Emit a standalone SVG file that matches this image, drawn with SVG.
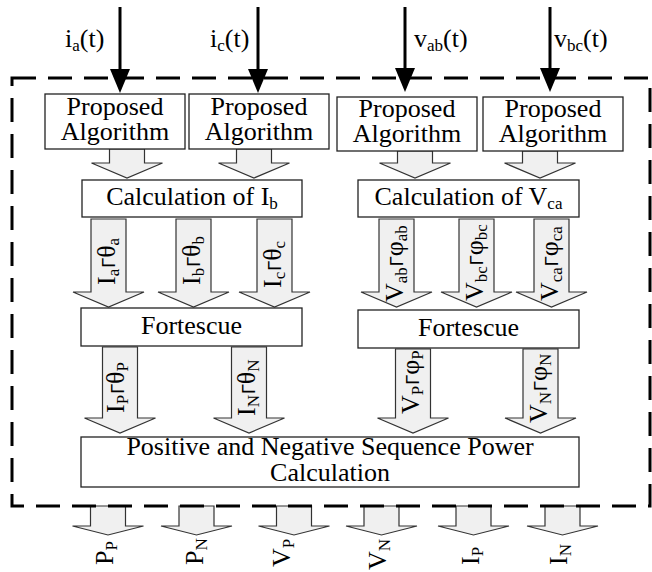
<svg xmlns="http://www.w3.org/2000/svg" width="652" height="572" viewBox="0 0 652 572">
<defs>
<style>
text{font-family:"Liberation Serif","Times New Roman",serif;font-size:26px;fill:#000}
.c{text-anchor:middle}
.sub{font-size:17px}
.ang{font-family:"Liberation Sans",Arial,sans-serif;font-size:18px}
.box{fill:#fff;stroke:#222;stroke-width:1.3}
.barr{fill:#f0f0f0;stroke:#333;stroke-width:1.2;stroke-linejoin:miter}
.in{stroke:#000;stroke-width:3;fill:none}
.frame{fill:none;stroke:#000;stroke-width:3;stroke-dasharray:24 12}
</style>
<marker id="ah" markerUnits="userSpaceOnUse" markerWidth="24" markerHeight="20" refX="16" refY="10" orient="auto">
<path d="M0,0 L24,10 L0,20 Z" fill="#000"/>
</marker>
</defs>
<rect width="652" height="572" fill="#fff"/>

<g id="connectors">
<g id="inputs">
<line class="in" x1="120" y1="7" x2="120" y2="85" marker-end="url(#ah)"/>
<line class="in" x1="258" y1="7" x2="258" y2="85" marker-end="url(#ah)"/>
<line class="in" x1="405" y1="7" x2="405" y2="84" marker-end="url(#ah)"/>
<line class="in" x1="550" y1="7" x2="550" y2="84" marker-end="url(#ah)"/>
<text x="65" y="47">i<tspan class="sub" dy="4">a</tspan><tspan dy="-4">(t)</tspan></text>
<text x="210" y="47">i<tspan class="sub" dy="4">c</tspan><tspan dy="-4">(t)</tspan></text>
<text x="414" y="47">v<tspan class="sub" dy="4">ab</tspan><tspan dy="-4">(t)</tspan></text>
<text x="554" y="47">v<tspan class="sub" dy="4">bc</tspan><tspan dy="-4">(t)</tspan></text>
</g>
<g id="arrowsA">
<path class="barr" d="M109.5,149 H144.5 V163 H162.5 L127,178 L91.5,163 H109.5 Z"/>
<path class="barr" d="M236.5,149 H271.5 V163 H289.5 L254,178 L218.5,163 H236.5 Z"/>
<path class="barr" d="M397.5,151 H432.5 V163 H450.5 L415,178 L379.5,163 H397.5 Z"/>
<path class="barr" d="M522.5,151 H557.5 V163 H575.5 L540,178 L504.5,163 H522.5 Z"/>
</g>
<g id="arrowsB">
<path class="barr" d="M91,219 H126 V292 H144 L108.5,307 L73,292 H91 Z"/>
<text transform="translate(115,285) rotate(-90)">I<tspan class="sub" dy="4">a</tspan><tspan class="ang" dy="-4" dx="1">Γ</tspan><tspan>θ</tspan><tspan class="sub" dy="4">a</tspan></text>
<path class="barr" d="M176,219 H211 V292 H229 L193.5,307 L158,292 H176 Z"/>
<text transform="translate(200,285) rotate(-90)">I<tspan class="sub" dy="4">b</tspan><tspan class="ang" dy="-4" dx="1">Γ</tspan><tspan>θ</tspan><tspan class="sub" dy="4">b</tspan></text>
<path class="barr" d="M257,219 H292 V292 H310 L274.5,307 L239,292 H257 Z"/>
<text transform="translate(281,288) rotate(-90)">I<tspan class="sub" dy="4">c</tspan><tspan class="ang" dy="-4" dx="1">Γ</tspan><tspan>θ</tspan><tspan class="sub" dy="4">c</tspan></text>
<path class="barr" d="M379,219 H414 V292 H432 L396.5,307 L361,292 H379 Z"/>
<text transform="translate(403,302) rotate(-90)">V<tspan class="sub" dy="4">ab</tspan><tspan class="ang" dy="-4" dx="1">Γ</tspan><tspan>φ</tspan><tspan class="sub" dy="4">ab</tspan></text>
<path class="barr" d="M459,219 H494 V292 H512 L476.5,307 L441,292 H459 Z"/>
<text transform="translate(483,301) rotate(-90)">V<tspan class="sub" dy="4">bc</tspan><tspan class="ang" dy="-4" dx="1">Γ</tspan><tspan>φ</tspan><tspan class="sub" dy="4">bc</tspan></text>
<path class="barr" d="M534,219 H569 V292 H587 L551.5,307 L516,292 H534 Z"/>
<text transform="translate(558,301) rotate(-90)">V<tspan class="sub" dy="4">ca</tspan><tspan class="ang" dy="-4" dx="1">Γ</tspan><tspan>φ</tspan><tspan class="sub" dy="4">ca</tspan></text>
</g>
<g id="arrowsC">
<path class="barr" d="M102.5,347 H137.5 V418 H155.5 L120,433 L84.5,418 H102.5 Z"/>
<text transform="translate(124,413) rotate(-90)">I<tspan class="sub" dy="4">P</tspan><tspan class="ang" dy="-4" dx="1">Γ</tspan><tspan>θ</tspan><tspan class="sub" dy="4">P</tspan></text>
<path class="barr" d="M231.5,347 H266.5 V418 H284.5 L249,433 L213.5,418 H231.5 Z"/>
<text transform="translate(255,416) rotate(-90)">I<tspan class="sub" dy="4">N</tspan><tspan class="ang" dy="-4" dx="1">Γ</tspan><tspan>θ</tspan><tspan class="sub" dy="4">N</tspan></text>
<path class="barr" d="M395.5,349 H430.5 V418 H448.5 L413,433 L377.5,418 H395.5 Z"/>
<text transform="translate(419,414) rotate(-90)">V<tspan class="sub" dy="4">P</tspan><tspan class="ang" dy="-4" dx="1">Γ</tspan><tspan>φ</tspan><tspan class="sub" dy="4">P</tspan></text>
<path class="barr" d="M523,349 H558 V418 H576 L540.5,433 L505,418 H523 Z"/>
<text transform="translate(547,423) rotate(-90)">V<tspan class="sub" dy="4">N</tspan><tspan class="ang" dy="-4" dx="1">Γ</tspan><tspan>φ</tspan><tspan class="sub" dy="4">N</tspan></text>
</g>
<g id="outputs">
<path class="barr" d="M90.5,506 H125.5 V526 H143.5 L108,535 L72.5,526 H90.5 Z"/>
<path class="barr" d="M179,506 H214 V526 H232 L196.5,535 L161,526 H179 Z"/>
<path class="barr" d="M276.5,506 H311.5 V526 H329.5 L294,535 L258.5,526 H276.5 Z"/>
<path class="barr" d="M364,506 H399 V526 H417 L381.5,535 L346,526 H364 Z"/>
<path class="barr" d="M456,506 H491 V526 H509 L473.5,535 L438,526 H456 Z"/>
<path class="barr" d="M545,506 H580 V526 H598 L562.5,535 L527,526 H545 Z"/>
<text transform="translate(113,565) rotate(-90)">P<tspan class="sub" dy="4">P</tspan></text>
<text transform="translate(203,565) rotate(-90)">P<tspan class="sub" dy="4">N</tspan></text>
<text transform="translate(290,567) rotate(-90)">V<tspan class="sub" dy="4">P</tspan></text>
<text transform="translate(386,570) rotate(-90)">V<tspan class="sub" dy="4">N</tspan></text>
<text transform="translate(479,565) rotate(-90)">I<tspan class="sub" dy="4">P</tspan></text>
<text transform="translate(567,565) rotate(-90)">I<tspan class="sub" dy="4">N</tspan></text>
</g>
</g>

<rect id="boundary" class="frame" x="12" y="78" width="638" height="428"/>

<g id="alg1"><rect class="box" x="45" y="94" width="140" height="55"/>
<text class="c" x="115" y="115">Proposed</text><text class="c" x="115" y="140">Algorithm</text></g>
<g id="alg2"><rect class="box" x="189" y="94" width="140" height="55"/>
<text class="c" x="259" y="115">Proposed</text><text class="c" x="259" y="140">Algorithm</text></g>
<g id="alg3"><rect class="box" x="337" y="97" width="140" height="54"/>
<text class="c" x="407" y="117">Proposed</text><text class="c" x="407" y="142">Algorithm</text></g>
<g id="alg4"><rect class="box" x="483" y="97" width="140" height="54"/>
<text class="c" x="553" y="117">Proposed</text><text class="c" x="553" y="142">Algorithm</text></g>

<g id="calcIb"><rect class="box" x="82" y="180" width="220" height="37"/>
<text class="c" x="192" y="205">Calculation of I<tspan class="sub" dy="4">b</tspan></text></g>
<g id="calcVca"><rect class="box" x="358" y="180" width="221" height="37"/>
<text class="c" x="468.5" y="205">Calculation of V<tspan class="sub" dy="4">ca</tspan></text></g>

<g id="fortI"><rect class="box" x="81" y="308" width="221" height="38"/>
<text class="c" x="191.5" y="334">Fortescue</text></g>
<g id="fortV"><rect class="box" x="358" y="310" width="221" height="38"/>
<text class="c" x="468.5" y="336">Fortescue</text></g>

<g id="power"><rect class="box" x="81" y="437" width="498" height="50"/>
<text class="c" x="330" y="455">Positive and Negative Sequence Power</text>
<text class="c" x="330" y="481">Calculation</text></g>
</svg>
